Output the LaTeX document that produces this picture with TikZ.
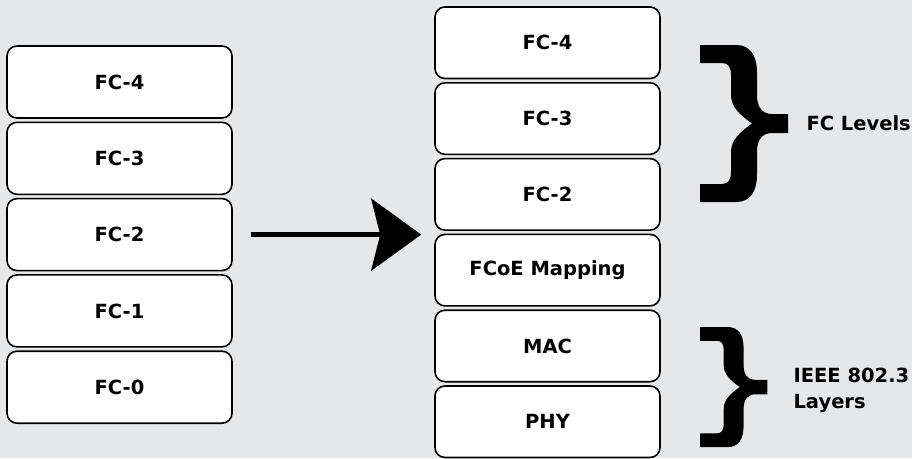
\documentclass[tikz,border=0pt]{standalone}
\usepackage{fontspec}
\setmainfont{DejaVu Sans}
\usetikzlibrary{positioning,arrows.meta}
\definecolor{bggray}{RGB}{230,231,233}
\tikzset{curly/.pic={
    \fill (0,0) -- (36,0) .. controls (50,0) and (57,10) .. (57,28) -- (57,50)
      .. controls (57,62) and (62,69) .. (72,69) -- (88,69) -- (88,88) -- (72,88)
      .. controls (62,88) and (57,95) .. (57,107) -- (57,129)
      .. controls (57,147) and (50,157) .. (36,157) -- (0,157) -- (0,139) -- (22,139)
      .. controls (28,139) and (31,135) .. (31,127) -- (31,107)
      .. controls (31,95) and (40,87) .. (52,78.5)
      .. controls (40,70) and (31,62) .. (31,50) -- (31,30)
      .. controls (31,22) and (28,18) .. (22,18) -- (0,18) -- cycle;
}}
\begin{document}
\begin{tikzpicture}[x=1pt,y=-1pt,
    every node/.style={font=\fontsize{19.5}{26}\selectfont\bfseries},
    layer/.style={draw,fill=white,line width=1.6pt,rounded corners=10pt,minimum width=225pt,inner sep=0pt},
    left layer/.style={layer,minimum height=72pt},
    right layer/.style={layer,minimum height=71.5pt},
    flow/.style={line width=5pt,-{Stealth[length=50pt,width=72pt,inset=9pt]}}]
    \fill[bggray] (0,0) rectangle (912,458);
    \useasboundingbox (0,0) rectangle (912,458);
    % old stack
    \node[left layer] (lfour) at (119.5,82) {FC-4};
    \node[left layer,below=2.7pt of lfour] (lthree) {FC-3};
    \node[left layer,below=2.7pt of lthree] (ltwo) {FC-2};
    \node[left layer,below=2.7pt of ltwo] (lone) {FC-1};
    \node[left layer,below=2.7pt of lone] (lzero) {FC-0};
    % FCoE stack
    \node[right layer] (rfour) at (547.5,42.75) {FC-4};
    \node[right layer,below=2.7pt of rfour] (rthree) {FC-3};
    \node[right layer,below=2.7pt of rthree] (rtwo) {FC-2};
    \node[right layer,below=2.7pt of rtwo] (rmap) {FCoE Mapping};
    \node[right layer,below=2.7pt of rmap] (rmac) {MAC};
    \node[right layer,below=2.7pt of rmac] (rphy) {PHY};
    % arrow
    \coordinate (tip) at ([xshift=-13pt]rmap.west |- ltwo.east);
    \draw[flow] ([xshift=18pt]ltwo.east) -- (tip);
    % braces
    \pic at (700,45) {curly};
    \pic[scale=0.765] at (700,327) {curly};
    \node[anchor=west] (fclevels) at (803,123) {FC Levels};
    \node[anchor=west,align=left] (ieee) at (790,390) {IEEE 802.3\\Layers};
\end{tikzpicture}
\end{document}
